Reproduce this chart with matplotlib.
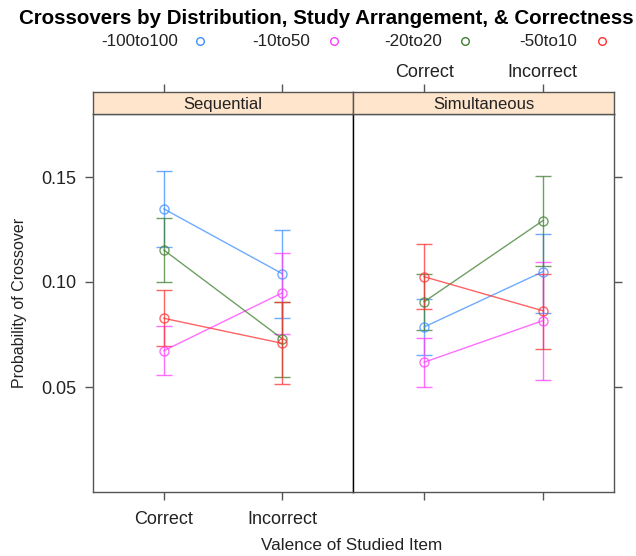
import matplotlib
matplotlib.use("Agg")
import matplotlib.pyplot as plt
from matplotlib.lines import Line2D

plt.rcParams['font.family'] = ['Liberation Sans', 'DejaVu Sans']

# data
valence = ["Correct", "Incorrect"]
panels = ["Sequential", "Simultaneous"]
groups = ["-100to100", "-10to50", "-20to20", "-50to10"]
colors = ["#3d8fff", "#ff3dff", "#3f7f2f", "#ff3030"]

# mean, lower, upper per panel -> group -> [Correct, Incorrect]
seq_mean = {"-100to100": [0.1348, 0.1040], "-10to50": [0.0673, 0.0948],
            "-20to20": [0.1152, 0.0730], "-50to10": [0.0827, 0.0708]}
seq_low = {"-100to100": [0.1168, 0.0829], "-10to50": [0.0556, 0.0754],
           "-20to20": [0.1002, 0.0549], "-50to10": [0.0697, 0.0513]}
seq_high = {"-100to100": [0.1529, 0.1249], "-10to50": [0.0790, 0.1140],
            "-20to20": [0.1305, 0.0905], "-50to10": [0.0960, 0.0905]}

sim_mean = {"-100to100": [0.0786, 0.1049], "-10to50": [0.0618, 0.0816],
            "-20to20": [0.0906, 0.1292], "-50to10": [0.1025, 0.0863]}
sim_low = {"-100to100": [0.0651, 0.0854], "-10to50": [0.0502, 0.0533],
           "-20to20": [0.0771, 0.1078], "-50to10": [0.0870, 0.0682]}
sim_high = {"-100to100": [0.0918, 0.1230], "-10to50": [0.0732, 0.1097],
            "-20to20": [0.1038, 0.1505], "-50to10": [0.1181, 0.1038]}

W, H = 636, 556
fig = plt.figure(figsize=(W / 100, H / 100), dpi=100)

def fx(px):
    return px / W

def fy(py):
    return 1 - py / H

x_left = [93, 353]
x_right = [353, 614]
panel_top, panel_bot, strip_top = 114, 492, 92
xpos = [1, 2]
axis_grey = "#555555"
txt = "#222222"

for i, (name, mean, low, high) in enumerate([
        ("Sequential", seq_mean, seq_low, seq_high),
        ("Simultaneous", sim_mean, sim_low, sim_high)]):
    l, r = x_left[i], x_right[i]
    ax = fig.add_axes([fx(l), fy(panel_bot), fx(r - l), (panel_bot - panel_top) / H])
    for g, c in zip(groups, colors):
        m = mean[g]
        err = [[m[k] - low[g][k] for k in range(2)], [high[g][k] - m[k] for k in range(2)]]
        ax.errorbar(xpos, m, yerr=err, color=c, alpha=0.75, lw=1.0,
                    capsize=5.5, capthick=1.0, marker="o", ms=6.5,
                    mfc="none", mec=c, mew=1.0)
    ax.set_xlim(0.4, 2.6)
    ax.set_ylim(0, 0.18)
    ax.set_xticks(xpos)
    ax.set_yticks([0.05, 0.10, 0.15])
    ax.tick_params(direction="out", length=6, width=1, color=axis_grey,
                   labelsize=13, labelcolor=txt)
    ax.tick_params(axis="x", pad=8)
    ax.tick_params(axis="y", pad=6)
    if i == 0:
        ax.set_xticklabels(valence)
        ax.set_yticklabels(["0.05", "0.10", "0.15"])
        ax.tick_params(axis="y", left=True, right=False)
        ax.set_ylabel("Probability of Crossover", fontsize=11.5, color=txt, labelpad=10)
    else:
        ax.set_xticklabels([])
        ax.tick_params(axis="y", left=False, right=True, labelleft=False)
    for s in ax.spines.values():
        s.set_color(axis_grey)
        s.set_linewidth(1)
    if i == 1:
        ax.spines["left"].set_color("black")

    # strip
    sax = fig.add_axes([fx(l), fy(panel_top), fx(r - l), (panel_top - strip_top) / H])
    sax.set_facecolor("#ffe5cc")
    sax.set_xlim(0.4, 2.6)
    sax.set_ylim(0, 1)
    sax.set_yticks([])
    sax.set_xticks(xpos)
    sax.tick_params(axis="x", bottom=False, top=True, labelbottom=False,
                    labeltop=(i == 1), direction="out", length=6, width=1,
                    color=axis_grey, labelsize=13, labelcolor=txt, pad=2)
    if i == 1:
        sax.set_xticklabels(valence)
    for s in sax.spines.values():
        s.set_color(axis_grey)
        s.set_linewidth(1)
    sax.text(1.5, 0.45, name, ha="center", va="center", fontsize=12,
             color=txt)

fig.text(fx(326), fy(18), "Crossovers by Distribution, Study Arrangement, & Correctness",
         ha="center", va="center", fontsize=14.8, fontweight="bold")
fig.text(fx(352), fy(545), "Valence of Studied Item", ha="center", va="center",
         fontsize=12.3, color=txt)

# legend (text then open circle, lattice-style key)
legend_text_end = [178, 310, 442, 577]
legend_marker_x = [200, 334, 465, 602]
for g, c, te, mx in zip(groups, colors, legend_text_end, legend_marker_x):
    fig.text(fx(te), fy(42), g, ha="right", va="center", fontsize=12.3, color=txt)
    fig.add_artist(Line2D([fx(mx)], [fy(41)], transform=fig.transFigure, ls="none",
                          marker="o", ms=5.5, mfc="none", mec=c, mew=1.0))

fig.savefig("out.png", dpi=100)
